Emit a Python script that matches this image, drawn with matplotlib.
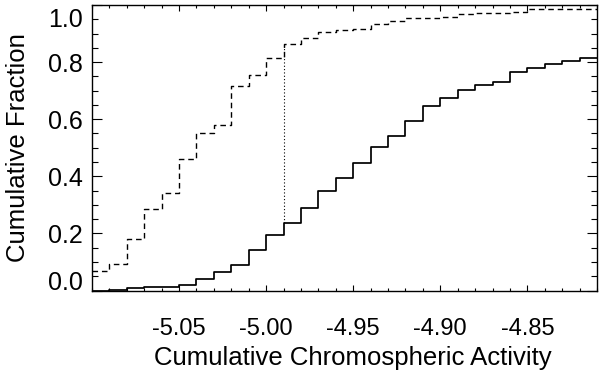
import matplotlib
matplotlib.use("Agg")
import matplotlib.pyplot as plt
from matplotlib.ticker import MultipleLocator, FixedLocator
from matplotlib.transforms import ScaledTranslation

# ---- data ----
bin_edges = [-5.10, -5.09, -5.08, -5.07, -5.06, -5.05, -5.04, -5.03, -5.02, -5.01,
             -5.00, -4.99, -4.98, -4.97, -4.96, -4.95, -4.94, -4.93, -4.92, -4.91,
             -4.90, -4.89, -4.88, -4.87, -4.86, -4.85, -4.84, -4.83, -4.82, -4.81]
dashed_cum = [0.068, 0.092, 0.179, 0.286, 0.341, 0.461, 0.551, 0.581, 0.715, 0.755,
              0.815, 0.865, 0.885, 0.905, 0.912, 0.915, 0.935, 0.944, 0.953, 0.955,
              0.959, 0.967, 0.971, 0.973, 0.974, 0.985, 0.985, 0.985, 0.985]
solid_cum = [0.000, 0.003, 0.008, 0.012, 0.014, 0.020, 0.040, 0.065, 0.088, 0.141,
             0.195, 0.235, 0.288, 0.350, 0.394, 0.445, 0.504, 0.541, 0.594, 0.645,
             0.675, 0.704, 0.721, 0.732, 0.766, 0.780, 0.792, 0.805, 0.815]
ks_x = -4.99
ks_index = 11
xticks = [-5.05, -5.00, -4.95, -4.90, -4.85]
xtick_labels = ["-5.05", "-5.00", "-4.95", "-4.90", "-4.85"]
yticks = [0.0, 0.2, 0.4, 0.6, 0.8, 1.0]
ytick_labels = ["0.0", "0.2", "0.4", "0.6", "0.8", "1.0"]

plt.rcParams['font.family'] = ['Liberation Sans', 'DejaVu Sans']

fig = plt.figure(figsize=(6.0, 3.76), dpi=100)
W, H = 600, 376
ax = fig.add_axes([92 / W, 1 - 290.5 / H, (597 - 92) / W, (290.5 - 5) / H])

ax.step(bin_edges, dashed_cum + [dashed_cum[-1]], where='post', color='black',
        lw=1.0, linestyle=(0, (4.0, 2.8)))
ax.step(bin_edges, solid_cum + [solid_cum[-1]], where='post', color='black', lw=1.25)
ax.plot([ks_x, ks_x], [solid_cum[ks_index], dashed_cum[ks_index]], color='black',
        lw=0.8, linestyle=(0, (1, 2)))

ax.set_xlim(bin_edges[0], bin_edges[-1])
ax.set_ylim(0.0, 1.0)

ax.xaxis.set_major_locator(FixedLocator(xticks))
ax.set_xticklabels(xtick_labels)
ax.xaxis.set_minor_locator(MultipleLocator(0.01))
ax.yaxis.set_major_locator(FixedLocator(yticks))
ax.set_yticklabels(ytick_labels)
ax.yaxis.set_minor_locator(MultipleLocator(0.05))

ax.tick_params(axis='both', which='both', direction='in', top=True, right=True,
               color='black', width=0.8)
ax.tick_params(axis='x', which='major', length=4.2, pad=20, labelsize=17)
ax.tick_params(axis='x', which='minor', length=2.3)
ax.tick_params(axis='y', which='major', length=7.2, pad=6.5, labelsize=18)
ax.tick_params(axis='y', which='minor', length=4.3)

for sp in ax.spines.values():
    sp.set_linewidth(1.0)

ylabs = ax.get_yticklabels()
ylabs[0].set_va('baseline')
ylabs[-1].set_va('top')
ylabs[-1].set_transform(ylabs[-1].get_transform()
                        + ScaledTranslation(0, -3 / 100, fig.dpi_scale_trans))

ax.set_xlabel("Cumulative Chromospheric Activity", fontsize=18.5)
ax.xaxis.set_label_coords((352.5 - 92) / 505, (290.5 - 346) / 285.5)
ax.set_ylabel("Cumulative Fraction", fontsize=18.5)
ax.yaxis.set_label_coords((30 - 92) / 505, 0.5)

fig.savefig("out.png", dpi=100)
